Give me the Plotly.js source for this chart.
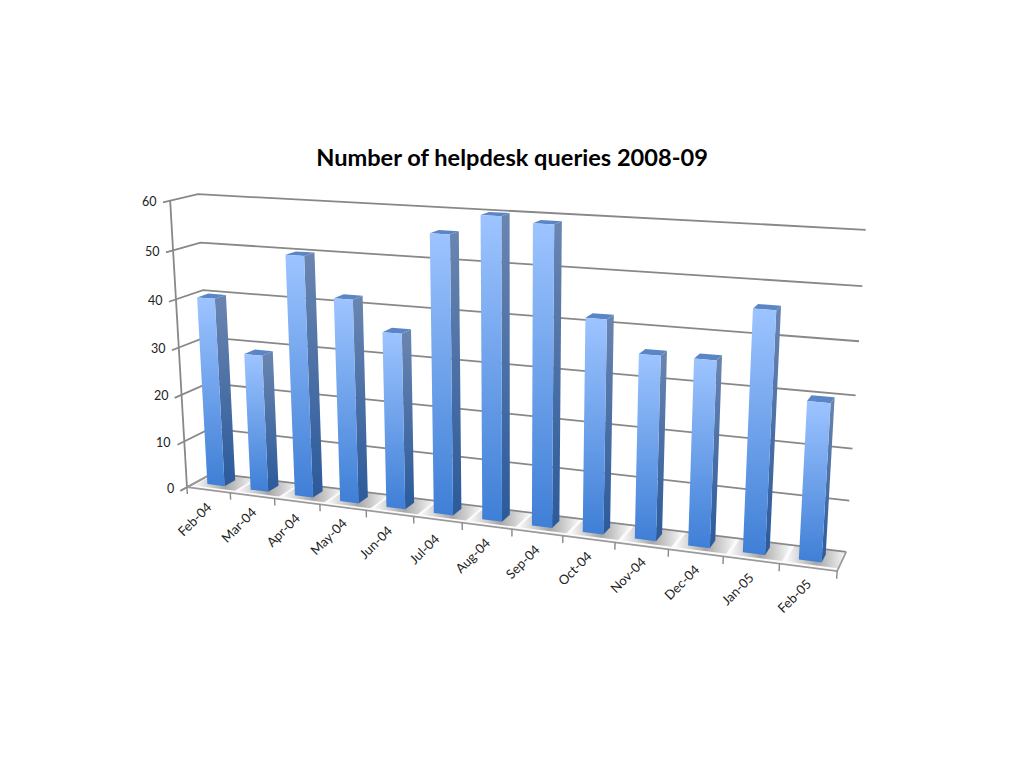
<!DOCTYPE html>
<html><head><meta charset="utf-8"><script src="https://cdn.plot.ly/plotly-3.0.1.min.js"></script>
<style>html,body{margin:0;background:#fff}#c{width:1024px;height:768px}</style></head>
<body><div id="c"></div>
<script>
const months=["Feb-04","Mar-04","Apr-04","May-04","Jun-04","Jul-04","Aug-04","Sep-04","Oct-04","Nov-04","Dec-04","Jan-05","Feb-05"];
const queries=[40,29,50,42,36,56,60,59,42,36,36,46,30];
const valueTicks=[0,10,20,30,40,50,60];
const valueMax=60;

// Perspective camera of the chart: maps (X along months 0-1, D depth 0-1, V value 0-1) to the plot axes.
const cam=[0.18697,0.53005,0.03207,-0.02516,0.48720,0.00188,-0.00053,-0.29639,-0.14347,0.02871,-0.04900];
function proj(X,D,V){const w=1+cam[8]*X+cam[9]*D+cam[10]*V;
 return [1000*(cam[0]+cam[1]*X+cam[2]*D+cam[3]*V)/w,1000*(cam[4]+cam[5]*X+cam[6]*D+cam[7]*V)/w];}
const N=months.length;
const P=(cat,D,val)=>proj(cat/N,D,val/valueMax);

const traces=[];
function poly(pts,opt){traces.push(Object.assign({type:'scatter',x:pts.map(q=>q[0]),y:pts.map(q=>q[1]),mode:'lines',hoverinfo:'skip'},opt));}
const closed=a=>a.concat([a[0]]);
const face=(pts,c1,c2)=>poly(closed(pts),{fill:'toself',line:{width:0},fillgradient:{type:'vertical',colorscale:[[0,c1],[1,c2]]}});
// floor
poly(closed([P(0,0,0),P(N,0,0),P(N,1,0),P(0,1,0)]),{fill:'toself',fillcolor:'#fbfbfb',line:{width:0}});
// soft shadows on the floor
const halfW=0.2,dF=0.32,dB=0.74,centre=0.48;
queries.forEach((v,i)=>{const c=i+centre,a=c-halfW-.2,b=c+halfW+.34;
 poly(closed([P(a,dF-.18,0),P(b,dF-.18,0),P(b,1,0),P(a,1,0)]),{fill:'toself',line:{width:0},fillgradient:{type:'horizontal',colorscale:[[0,'rgba(110,110,110,0)'],[.5,'rgba(110,110,110,.6)'],[1,'rgba(110,110,110,0)']]}});
});
// grid: left wall + back wall
const gridC='#888888';
valueTicks.forEach(v=>{poly([P(0,-.25,v),P(0,0,v),P(0,1,v),P(N,1,v)],{line:{color:gridC,width:1.8}});});
poly([P(0,0,0),P(0,0,valueMax)],{line:{color:gridC,width:1.8}});
// floor edges and ticks
poly([P(0,1,0),P(0,0,0),P(N,0,0),P(N,1,0)],{line:{color:'#9a9a9a',width:1.7}});
months.concat(['']).forEach((m,i)=>{poly([P(i,0,0),P(i,0,-1.5)],{line:{color:gridC,width:1.4}});});
// bars
queries.forEach((v,i)=>{const c=i+centre,a=c-halfW,b=c+halfW;
 face([P(b,dF,0),P(b,dB,0),P(b,dB,v),P(b,dF,v)],'#2b5a9b','#6b85b0');
 face([P(a,dF,v),P(b,dF,v),P(b,dB,v),P(a,dB,v)],'#5b86c6','#5b86c6');
 face([P(a,dF,0),P(b,dF,0),P(b,dF,v),P(a,dF,v)],'#3f7fd6','#9dc4ff');
});
const ann=[];
months.forEach((m,i)=>{const q=P(i+.5,0,0);ann.push({x:q[0],y:q[1],xref:'x',yref:'y',text:m,textangle:-45,showarrow:false,xanchor:'center',yanchor:'middle',xshift:-14,yshift:-29,font:{family:'Lato',size:13,color:'#222'}});});
valueTicks.forEach(v=>{const q=P(0,0,v);ann.push({x:q[0],y:q[1],xref:'x',yref:'y',text:String(v),showarrow:false,xanchor:'right',yanchor:'middle',xshift:-11,yshift:-1,font:{family:'Lato',size:12.5,color:'#222'}});});
const layout={width:1024,height:768,margin:{l:0,r:0,t:0,b:0},paper_bgcolor:'#fff',plot_bgcolor:'#fff',showlegend:false,
 title:{text:'<b>Number of helpdesk queries 2008-09</b>',font:{family:'Lato',size:23.6,color:'#000'},x:0.5,y:0.794,xanchor:'center',yanchor:'middle'},
 xaxis:{visible:false,range:[0,1024],fixedrange:true},yaxis:{visible:false,range:[768,0],fixedrange:true},annotations:ann};
Plotly.newPlot('c',traces,layout,{displayModeBar:false,staticPlot:true});
</script></body></html>
